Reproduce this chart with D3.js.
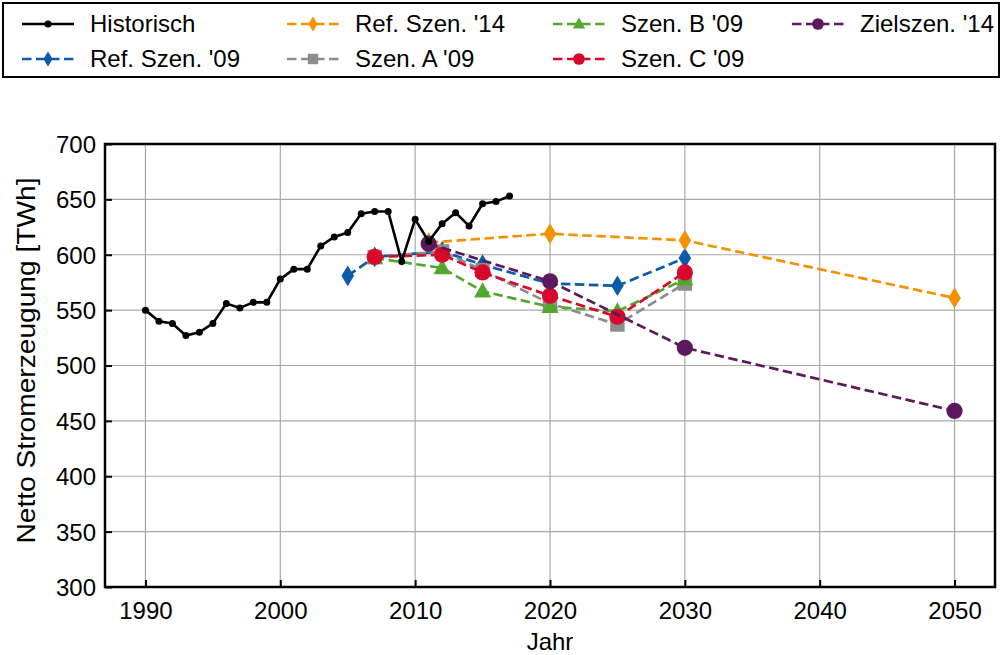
<!DOCTYPE html>
<html lang="de">
<head>
<meta charset="utf-8">
<title>Netto Stromerzeugung</title>
<script src="https://cdn.jsdelivr.net/npm/d3@7"></script>
<style>
  body { margin: 0; background: #fff; }
  svg { font-family: "Liberation Sans", Arial, sans-serif; }
</style>
</head>
<body>
<script>
  // Historische Werte (TWh)
  var histYears = [1990, 1991, 1992, 1993, 1994, 1995, 1996, 1997, 1998, 1999,
                   2000, 2001, 2002, 2003, 2004, 2005, 2006, 2007, 2008, 2009,
                   2010, 2011, 2012, 2013, 2014, 2015, 2016, 2017];
  var histValues = [550, 540, 538, 527, 530, 538, 556, 552, 557, 557,
                    578, 587, 587, 608, 616, 620, 637, 639, 639, 594,
                    632, 612, 628, 638, 626, 646, 648, 653];

  // Szenarien
  var ref09Years = [2005, 2007, 2012, 2015, 2020, 2025, 2030];
  var ref09Values = [581, 598, 603, 591, 574, 572, 597];
  var ref14Years = [2011, 2020, 2030, 2050];
  var ref14Values = [611, 619, 613, 561];
  var szenAYears = [2007, 2012, 2015, 2020, 2025, 2030];
  var szenAValues = [598, 603, 586, 556, 537, 574];
  var szenBYears = [2007, 2012, 2015, 2020, 2025, 2030];
  var szenBValues = [597, 588, 567, 553, 549, 578];
  var szenCYears = [2007, 2012, 2015, 2020, 2025, 2030];
  var szenCValues = [598, 600, 584, 563, 544, 584];
  var ziel14Years = [2011, 2020, 2030, 2050];
  var ziel14Values = [610, 576, 516, 459];

  var xTicks = [1990, 2000, 2010, 2020, 2030, 2040, 2050];
  var yTicks = [300, 350, 400, 450, 500, 550, 600, 650, 700];

  var width = 1003;
  var height = 655;

  var svg = d3.select("body")
      .append("svg")
      .attr("width", width)
      .attr("height", height);

  var x = d3.scaleLinear().domain([1987, 2053]).range([105, 995]);
  var y = d3.scaleLinear().domain([300, 700]).range([587, 144]);

  // grid
  var grid = svg.append("g");
  grid.selectAll(".gx").data(xTicks).enter().append("line")
    .attr("x1", d => x(d)).attr("x2", d => x(d))
    .attr("y1", y(300)).attr("y2", y(700))
    .attr("stroke", "#a8a8a8").attr("stroke-width", 1.2);
  grid.selectAll(".gy").data(yTicks).enter().append("line")
    .attr("x1", x(1987)).attr("x2", x(2053))
    .attr("y1", d => y(d)).attr("y2", d => y(d))
    .attr("stroke", "#a8a8a8").attr("stroke-width", 1.2);

  // axes (ticks inward)
  var xAxis = svg.append("g")
    .attr("transform", "translate(0," + y(300) + ")")
    .call(d3.axisTop(x).tickValues(xTicks).tickFormat(d3.format("d")).tickSize(7));
  var yAxis = svg.append("g")
    .attr("transform", "translate(" + x(1987) + ",0)")
    .call(d3.axisRight(y).tickValues(yTicks).tickSize(7));
  [xAxis, yAxis].forEach(function (a) {
    a.select(".domain").remove();
    a.selectAll(".tick line").attr("stroke", "#000").attr("stroke-width", 2);
    a.selectAll(".tick text").attr("font-size", 24).attr("fill", "#000")
      .attr("font-family", "Liberation Sans, Arial, sans-serif");
  });
  yAxis.selectAll(".tick text").attr("text-anchor", "end")
    .attr("x", -9).attr("dy", "0.35em");
  xAxis.selectAll(".tick text").attr("y", 32).attr("dy", 0);

  // frame
  svg.append("rect")
    .attr("x", x(1987)).attr("y", y(700))
    .attr("width", x(2053) - x(1987)).attr("height", y(300) - y(700))
    .attr("fill", "none").attr("stroke", "#000").attr("stroke-width", 2.5);

  // axis labels
  svg.append("text")
    .attr("x", (x(1987) + x(2053)) / 2).attr("y", 650)
    .attr("text-anchor", "middle").attr("font-size", 24).text("Jahr");
  svg.append("text")
    .attr("transform", "translate(35," + ((y(300) + y(700)) / 2 - 5) + ") rotate(-90)")
    .attr("text-anchor", "middle").attr("font-size", 25)
    .attr("textLength", 366).attr("lengthAdjust", "spacingAndGlyphs")
    .text("Netto Stromerzeugung [TWh]");

  // marker shapes
  function markerPath(type, s) {
    if (type === "diamond") return "M0," + (-s * 1.15) + "L" + (s * 0.7) + ",0L0," + (s * 1.15) + "L" + (-s * 0.7) + ",0Z";
    if (type === "square") return "M" + (-s * 0.8) + "," + (-s * 0.8) + "h" + (s * 1.6) + "v" + (s * 1.6) + "h" + (-s * 1.6) + "Z";
    if (type === "triangle") return "M0," + (-s) + "L" + (s * 0.95) + "," + (s * 0.7) + "L" + (-s * 0.95) + "," + (s * 0.7) + "Z";
    return d3.symbol().type(d3.symbolCircle).size(Math.PI * s * s * 0.81)();
  }

  var series = [
    { name: "Ref. Szen. '09", years: ref09Years, values: ref09Values, color: "#0b5ca8", marker: "diamond" },
    { name: "Ref. Szen. '14", years: ref14Years, values: ref14Values, color: "#f39200", marker: "diamond" },
    { name: "Szen. A '09", years: szenAYears, values: szenAValues, color: "#8c8c8c", marker: "square" },
    { name: "Szen. B '09", years: szenBYears, values: szenBValues, color: "#52a82c", marker: "triangle" },
    { name: "Szen. C '09", years: szenCYears, values: szenCValues, color: "#d7082c", marker: "circle" },
    { name: "Zielszen. '14", years: ziel14Years, values: ziel14Values, color: "#5c1a5e", marker: "circle" }
  ];

  var line = d3.line().x(d => x(d[0])).y(d => y(d[1]));

  series.forEach(function (s) {
    var pts = d3.zip(s.years, s.values);
    var g = svg.append("g");
    g.append("path").attr("d", line(pts))
      .attr("fill", "none").attr("stroke", s.color)
      .attr("stroke-width", 2.7).attr("stroke-dasharray", "9.5,4.5");
    g.selectAll("path.m").data(pts).enter().append("path")
      .attr("class", "m")
      .attr("d", markerPath(s.marker, 9))
      .attr("transform", d => "translate(" + x(d[0]) + "," + y(d[1]) + ")")
      .attr("fill", s.color);
  });

  // historische Linie zuletzt
  var hist = d3.zip(histYears, histValues);
  svg.append("path").attr("d", line(hist))
    .attr("fill", "none").attr("stroke", "#000").attr("stroke-width", 2.6);
  svg.selectAll("circle.h").data(hist).enter().append("circle")
    .attr("class", "h")
    .attr("cx", d => x(d[0])).attr("cy", d => y(d[1])).attr("r", 3.5)
    .attr("fill", "#000");

  // legend
  var legend = svg.append("g");
  legend.append("rect")
    .attr("x", 3).attr("y", 3).attr("width", 996).attr("height", 74)
    .attr("fill", "#fff").attr("stroke", "#000").attr("stroke-width", 2);

  var legendItems = [
    { name: "Historisch", color: "#000", marker: "hist", col: 0, row: 0 },
    { name: series[0].name, color: series[0].color, marker: "diamond", col: 0, row: 1 },
    { name: series[1].name, color: series[1].color, marker: "diamond", col: 1, row: 0 },
    { name: series[2].name, color: series[2].color, marker: "square", col: 1, row: 1 },
    { name: series[3].name, color: series[3].color, marker: "triangle", col: 2, row: 0 },
    { name: series[4].name, color: series[4].color, marker: "circle", col: 2, row: 1 },
    { name: series[5].name, color: series[5].color, marker: "circle", col: 3, row: 0 }
  ];
  var colX = [22, 287, 553, 792];
  var rowY = [24, 59];

  legendItems.forEach(function (it) {
    var lx = colX[it.col], ly = rowY[it.row];
    var g = legend.append("g").attr("transform", "translate(" + lx + "," + ly + ")");
    g.append("line").attr("x1", 0).attr("x2", 52).attr("y1", 0).attr("y2", 0)
      .attr("stroke", it.color).attr("stroke-width", 2.6)
      .attr("stroke-dasharray", it.marker === "hist" ? null : "9.5,4.5");
    if (it.marker === "hist") {
      g.append("circle").attr("cx", 26).attr("cy", 0).attr("r", 3.5).attr("fill", "#000");
    } else {
      g.append("path").attr("d", markerPath(it.marker, 6.5))
        .attr("transform", "translate(26,0)").attr("fill", it.color);
    }
    g.append("text").attr("x", 68).attr("y", 0).attr("dy", "0.35em")
      .attr("font-size", 24).text(it.name);
  });
</script>
</body>
</html>
